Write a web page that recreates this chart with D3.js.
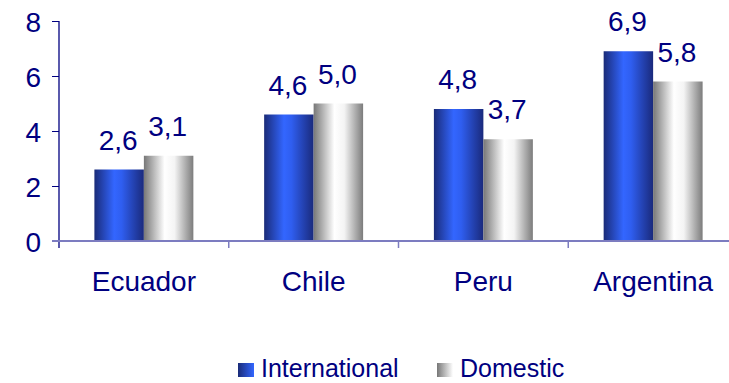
<!DOCTYPE html>
<html>
<head>
<meta charset="utf-8">
<script src="https://cdn.jsdelivr.net/npm/d3@7"></script>
<style>
  html, body { margin: 0; padding: 0; background: #fff; }
  svg { display: block; font-family: "Liberation Sans", Arial, Helvetica, sans-serif; }
</style>
</head>
<body>
<svg id="chart" width="729" height="383"></svg>
<script>
// Countries and rates by market
const categories = ["Ecuador", "Chile", "Peru", "Argentina"];
const seriesNames = ["International", "Domestic"];
const international = [2.6, 4.6, 4.8, 6.9];
const domestic = [3.1, 5.0, 3.7, 5.8];
const yTicks = [0, 2, 4, 6, 8];

const textColor = "#000080";
const svg = d3.select("#chart");

// Cylinder-like shading for the two series
const defs = svg.append("defs");
function shade(id, stops) {
  const g = defs.append("linearGradient").attr("id", id)
    .attr("x1", "0%").attr("x2", "100%").attr("y1", "0%").attr("y2", "0%");
  stops.forEach(([o, c]) => g.append("stop").attr("offset", o).attr("stop-color", c));
}
shade("gradInt", [["0%", "#1a2b78"], ["40%", "#3366ff"], ["55%", "#2f5ef0"], ["100%", "#1a2a7c"]]);
shade("gradDom", [["0%", "#777777"], ["42%", "#ffffff"], ["62%", "#f4f4f4"], ["100%", "#7c7c7c"]]);
shade("legInt", [["0%", "#1a2b78"], ["100%", "#3366ff"]]);
shade("legDom", [["0%", "#777777"], ["100%", "#ffffff"]]);

const fills = { International: "url(#gradInt)", Domestic: "url(#gradDom)" };
const legendFills = { International: "url(#legInt)", Domestic: "url(#legDom)" };

const x0 = d3.scaleBand().domain(categories).range([59, 738]).paddingInner(0.417).paddingOuter(0.2085);
const x1 = d3.scaleBand().domain(seriesNames).range([0, x0.bandwidth()]);
const y = d3.scaleLinear().domain([0, 8]).range([241, 21]);

const rows = categories.map((c, i) => ({
  category: c,
  values: [
    { key: "International", value: international[i] },
    { key: "Domestic", value: domestic[i] }
  ]
}));

// Bars
const groups = svg.append("g").selectAll("g").data(rows).join("g")
  .attr("transform", d => `translate(${x0(d.category)},0)`);

groups.selectAll("rect").data(d => d.values).join("rect")
  .attr("x", d => x1(d.key))
  .attr("width", x1.bandwidth())
  .attr("y", d => y(d.value))
  .attr("height", d => y(0) - y(d.value))
  .attr("fill", d => fills[d.key]);

// Value labels
groups.selectAll("text").data(d => d.values).join("text")
  .attr("x", d => x1(d.key) + x1.bandwidth() / 2 - 1)
  .attr("y", d => y(d.value) - 20)
  .attr("text-anchor", "middle")
  .attr("font-size", 28)
  .attr("fill", textColor)
  .text(d => d.value.toFixed(1).replace(".", ","));

// Y axis
const yAxis = svg.append("g").attr("transform", "translate(59,0)")
  .call(d3.axisLeft(y).tickValues(yTicks).tickSize(7).tickPadding(11).tickSizeOuter(0));
yAxis.select(".domain").attr("stroke", textColor).attr("stroke-width", 1.3)
  .attr("d", `M0,${y(8)}V${y(0) + 7}`);
yAxis.selectAll(".tick line").attr("stroke", textColor);
yAxis.selectAll(".tick text").attr("font-size", 28).attr("fill", textColor)
  .attr("font-family", "Liberation Sans, Arial, sans-serif").attr("dy", "0.36em");

// X axis baseline with boundary ticks
const xAxis = svg.append("g").attr("transform", `translate(0,${y(0)})`);
xAxis.append("line").attr("x1", 52).attr("x2", 729).attr("y1", 0).attr("y2", 0)
  .attr("stroke", "#7c7cc0").attr("stroke-width", 2);
const step = x0.step();
xAxis.selectAll("line.bound").data(categories.slice(1)).join("line")
  .attr("class", "bound")
  .attr("x1", d => x0(d) - x0.paddingInner() * step / 2)
  .attr("x2", d => x0(d) - x0.paddingInner() * step / 2)
  .attr("y1", 0).attr("y2", 7)
  .attr("stroke", "#7c7cc0").attr("stroke-width", 1.5);

// Category labels
svg.append("g").selectAll("text").data(categories).join("text")
  .attr("x", d => x0(d) + x0.bandwidth() / 2)
  .attr("y", 291)
  .attr("text-anchor", "middle")
  .attr("font-size", 28)
  .attr("fill", textColor)
  .text(d => d);

// Legend
const legendPos = [{ key: "International", x: 238 }, { key: "Domestic", x: 437 }];
const legend = svg.append("g").selectAll("g").data(legendPos).join("g")
  .attr("transform", d => `translate(${d.x},0)`);
legend.append("rect").attr("x", 0).attr("y", 363).attr("width", 16).attr("height", 14)
  .attr("fill", d => legendFills[d.key]);
legend.append("text").attr("x", 23).attr("y", 377)
  .attr("font-size", 25).attr("fill", textColor).text(d => d.key);
</script>
</body>
</html>
